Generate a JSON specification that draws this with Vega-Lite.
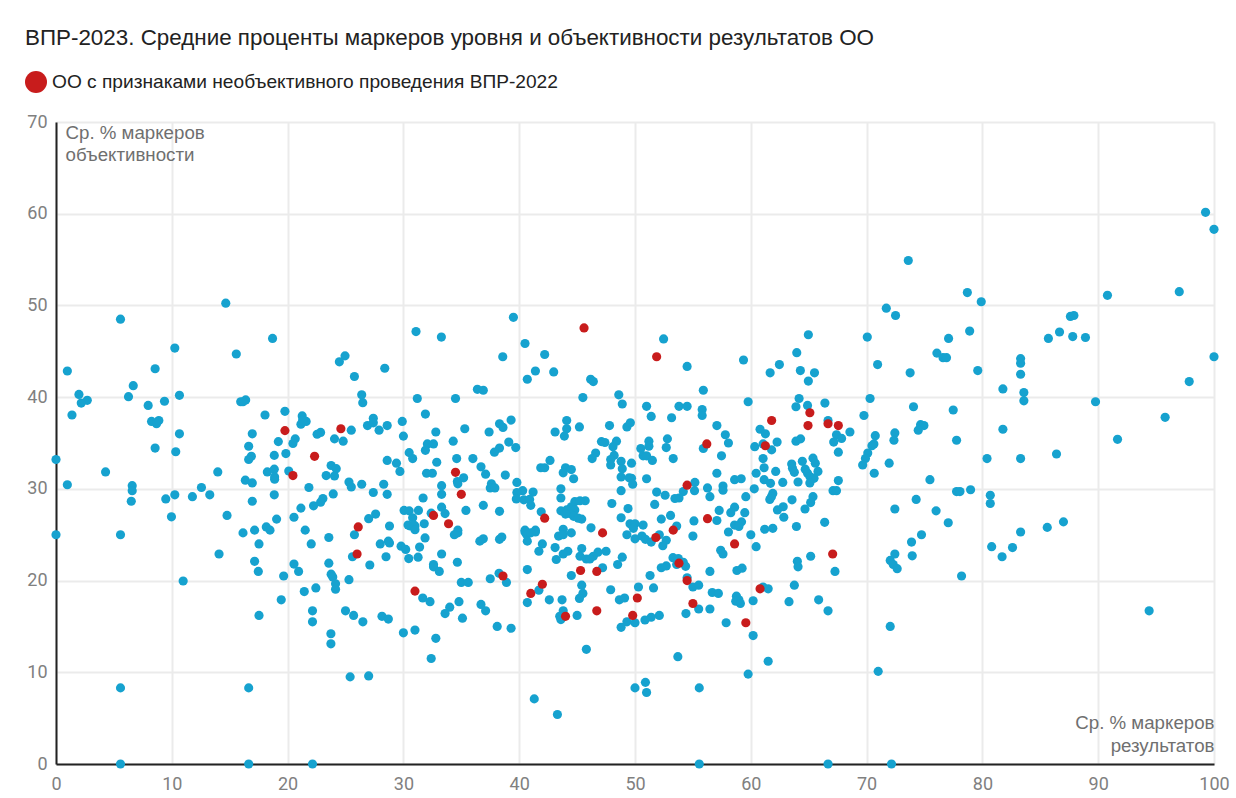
{"$schema":"https://vega.github.io/schema/vega-lite/v6.json","width":1158,"height":642,"autosize":"none","padding":{"left":56,"top":122,"right":22,"bottom":34},"background":"#ffffff",
"title":{"text":"ВПР-2023. Средние проценты маркеров уровня и объективности результатов ОО","anchor":"start","frame":"group","font":"Liberation Sans","fontSize":22.4,"fontWeight":"normal","color":"#222222","dx":-31,"dy":-22,"offset":0},
"config":{"view":{"stroke":null}},
"datasets":{"other":[
{"x":14.66,"y":50.25},{"x":5.57,"y":48.5},{"x":18.7,"y":46.4},{"x":10.26,"y":45.35},{"x":15.57,"y":44.7},{"x":8.56,"y":43.1},{"x":0.98,"y":42.85},{"x":6.67,"y":41.25},{"x":1.98,"y":40.3},{"x":6.26,"y":40.05},{"x":10.66,"y":40.2},{"x":2.7,"y":39.65},{"x":2.18,"y":39.35},{"x":9.37,"y":39.55},{"x":7.96,"y":39.1},{"x":15.95,"y":39.5},{"x":16.38,"y":39.7},{"x":16.15,"y":39.5},{"x":1.38,"y":38.05},{"x":18.05,"y":38.05},{"x":19.77,"y":38.45},{"x":21.26,"y":37.95},{"x":21.6,"y":37.35},{"x":21.15,"y":37.05},{"x":21.3,"y":37.5},{"x":8.25,"y":37.35},{"x":8.68,"y":37.1},{"x":8.88,"y":37.45},{"x":10.66,"y":36},{"x":16.95,"y":36},{"x":22.85,"y":36.15},{"x":22.55,"y":35.95},{"x":24.05,"y":35.45},{"x":20.66,"y":35.45},{"x":20.46,"y":34.95},{"x":19.2,"y":35.15},{"x":16.64,"y":34.65},{"x":8.56,"y":34.45},{"x":10.34,"y":34.05},{"x":18.85,"y":33.65},{"x":19.85,"y":33.85},{"x":16.87,"y":33.55},{"x":16.64,"y":33.2},{"x":0,"y":33.2},{"x":4.28,"y":31.85},{"x":13.97,"y":31.85},{"x":18.25,"y":31.85},{"x":18.85,"y":32.15},{"x":23.76,"y":32.55},{"x":24.2,"y":32.2},{"x":23.33,"y":31.45},{"x":24.05,"y":31.4},{"x":20.1,"y":31.95},{"x":18.88,"y":31.3},{"x":18.88,"y":31.05},{"x":16.35,"y":30.95},{"x":16.95,"y":30.65},{"x":0.98,"y":30.45},{"x":6.58,"y":30.35},{"x":6.58,"y":29.8},{"x":12.56,"y":30.15},{"x":21.84,"y":30.15},{"x":18.85,"y":29.35},{"x":10.26,"y":29.35},{"x":13.28,"y":29.35},{"x":11.78,"y":29.15},{"x":23.94,"y":29.45},{"x":9.48,"y":28.9},{"x":6.5,"y":28.65},{"x":16.95,"y":28.65},{"x":23.05,"y":28.95},{"x":22.85,"y":28.55},{"x":22.24,"y":28.15},{"x":21.15,"y":27.9},{"x":9.97,"y":26.95},{"x":14.77,"y":27.1},{"x":19.05,"y":26.7},{"x":20.55,"y":26.9},
{"x":0,"y":25},{"x":5.57,"y":25},{"x":16.15,"y":25.2},{"x":17.15,"y":25.5},{"x":18.16,"y":25.85},{"x":18.48,"y":25.5},{"x":21.52,"y":25.5},{"x":23.56,"y":24.7},{"x":17.53,"y":24},{"x":22.04,"y":24},{"x":14.08,"y":22.9},{"x":17.15,"y":22.1},{"x":17.47,"y":21},{"x":20.55,"y":21.8},{"x":20.95,"y":21},{"x":19.66,"y":20.5},{"x":23.56,"y":21.9},{"x":23.76,"y":20.7},{"x":23.9,"y":20.4},{"x":24.14,"y":19.65},{"x":24.14,"y":19.05},{"x":10.98,"y":19.95},{"x":21.44,"y":18.8},{"x":22.44,"y":19.2},{"x":19.45,"y":17.9},{"x":22.15,"y":16.7},{"x":22.15,"y":15.5},{"x":17.53,"y":16.2},{"x":23.74,"y":14.2},{"x":23.74,"y":13.1},{"x":5.57,"y":8.3},{"x":16.64,"y":8.3},{"x":5.57,"y":0},{"x":16.64,"y":0},{"x":22.15,"y":0},
{"x":31.09,"y":47.15},{"x":33.28,"y":46.55},{"x":39.5,"y":48.7},{"x":40.5,"y":45.85},{"x":42.2,"y":44.65},{"x":38.58,"y":44.4},{"x":24.96,"y":44.5},{"x":24.47,"y":43.85},{"x":28.39,"y":43.15},{"x":41.4,"y":42.85},{"x":42.98,"y":42.75},{"x":40.7,"y":41.95},{"x":25.77,"y":42.25},{"x":46.17,"y":41.95},{"x":46.4,"y":41.7},{"x":36.39,"y":40.85},{"x":36.9,"y":40.75},{"x":26.4,"y":40.25},{"x":26.49,"y":39.4},{"x":31.2,"y":39.85},{"x":34.5,"y":39.85},{"x":45.5,"y":39.95},{"x":48.6,"y":40.25},{"x":48.9,"y":39.25},{"x":31.9,"y":38.15},{"x":29.9,"y":37.35},{"x":27.4,"y":37.7},{"x":26.9,"y":36.9},{"x":27.4,"y":37.2},{"x":27.9,"y":36.4},{"x":28.6,"y":36.9},{"x":25.5,"y":36.4},{"x":39.3,"y":37.5},{"x":38.3,"y":37.1},{"x":38.6,"y":36.7},{"x":35.3,"y":36.55},{"x":37.4,"y":36.2},{"x":32.8,"y":36.2},{"x":30,"y":35.75},{"x":24.8,"y":35.2},{"x":34.3,"y":35.2},{"x":32.07,"y":34.9},{"x":32.6,"y":34.9},{"x":31.9,"y":34.2},{"x":44.1,"y":37.45},{"x":44.1,"y":36.55},{"x":43.9,"y":35.75},{"x":45.2,"y":36.75},{"x":43.1,"y":36.2},{"x":47.8,"y":36.9},{"x":49.3,"y":36.75},{"x":49.6,"y":37.2},{"x":39.1,"y":35.1},{"x":39.7,"y":34.5},{"x":38.3,"y":34.45},{"x":37.86,"y":34},{"x":30.5,"y":33.95},{"x":30.8,"y":33.3},{"x":34.6,"y":33.3},{"x":36,"y":33.3},{"x":28.6,"y":33.1},{"x":29.4,"y":32.8},{"x":32.88,"y":32.9},{"x":36.7,"y":32.4},{"x":37.1,"y":31.6},{"x":29.7,"y":31.9},{"x":32,"y":31.7},{"x":32.5,"y":31.7},{"x":38.8,"y":31.5},{"x":42.66,"y":33.1},{"x":41.86,"y":32.3},{"x":42.2,"y":32.3},{"x":44,"y":32.3},{"x":43.8,"y":31.75},{"x":44.5,"y":32.1},{"x":44.7,"y":31.1},{"x":46.6,"y":33.9},{"x":46.3,"y":33.3},{"x":47.1,"y":35.15},{"x":47.4,"y":35.05},{"x":48.4,"y":35.2},{"x":48.1,"y":34.6},{"x":48.2,"y":33.65},{"x":47.9,"y":33.2},{"x":47.9,"y":32.6},{"x":48.8,"y":33},{"x":48.9,"y":32.2},{"x":48.8,"y":31.3},{"x":49.5,"y":31.2},{"x":25.3,"y":30.75},{"x":25.5,"y":30.2},{"x":26.4,"y":30.5},{"x":28.3,"y":30.5},{"x":27.4,"y":29.6},{"x":28.6,"y":29.4},{"x":33.3,"y":30.35},{"x":33.3,"y":29.4},{"x":34.66,"y":30.8},{"x":35.2,"y":31.2},{"x":34.7,"y":30.55},{"x":37.6,"y":30.55},{"x":37.5,"y":30.1},{"x":37.9,"y":30.1},{"x":39.8,"y":30.7},{"x":40.3,"y":29.8},{"x":39.8,"y":29.6},{"x":41.2,"y":29.65},{"x":39.75,"y":28.9},{"x":40.4,"y":28.8},{"x":40.9,"y":28.85},{"x":41,"y":28.2},{"x":43.6,"y":30},{"x":43.6,"y":29},{"x":48.8,"y":29.8},{"x":31.7,"y":29},{"x":48,"y":28.4},{"x":48.8,"y":26.85},{"x":49.4,"y":27.85},{"x":30.06,"y":27.65},{"x":30.5,"y":27.6},{"x":31.3,"y":27.65},{"x":30.8,"y":26.85},{"x":33.3,"y":28},{"x":33.6,"y":27.3},{"x":32.4,"y":27.35},{"x":35.4,"y":27.65},{"x":36.9,"y":28.2},{"x":38.3,"y":27.55},{"x":41.9,"y":27.5},{"x":27.6,"y":27.25},{"x":27,"y":26.75},{"x":28.8,"y":25.95},{"x":31.8,"y":26.2},{"x":30.6,"y":25.95},{"x":31,"y":25.95},{"x":45.7,"y":28.7},{"x":44.8,"y":28.6},{"x":44.5,"y":28.05},{"x":44.1,"y":27.7},{"x":43.6,"y":27.6},{"x":44.8,"y":27.7},{"x":44.4,"y":27.3},{"x":44,"y":27.25},{"x":44.7,"y":27},{"x":45.4,"y":26.7},{"x":45.1,"y":26.8},{"x":45.25,"y":28.7},{"x":46.2,"y":25.75},{"x":43.8,"y":25.6},{"x":40.5,"y":25.5},{"x":41.4,"y":25.5},{"x":34.7,"y":25.5},
{"x":30.4,"y":26.05},{"x":30.9,"y":26.05},{"x":31,"y":25.55},{"x":25.77,"y":25},{"x":34.7,"y":25.2},{"x":34.4,"y":25},{"x":31.87,"y":24.65},{"x":28,"y":24},{"x":28.8,"y":24.1},{"x":28.7,"y":24.3},{"x":29.8,"y":23.75},{"x":30.2,"y":23.4},{"x":31.4,"y":23.65},{"x":36.9,"y":24.55},{"x":36.6,"y":24.3},{"x":38.5,"y":24.75},{"x":38.3,"y":24.5},{"x":40.5,"y":25.3},{"x":40.65,"y":25},{"x":41.4,"y":25.3},{"x":41,"y":25.2},{"x":40.7,"y":24.3},{"x":42,"y":24},{"x":41.7,"y":23.2},{"x":43.1,"y":23.6},{"x":43.4,"y":24.85},{"x":43.8,"y":25},{"x":44.5,"y":25.2},{"x":49.3,"y":25},{"x":45.4,"y":23.5},{"x":47.5,"y":23.2},{"x":46.8,"y":23.1},{"x":46.4,"y":22.65},{"x":45.8,"y":22.35},{"x":46.1,"y":22.35},{"x":45.25,"y":22.65},{"x":44.2,"y":23.2},{"x":43.8,"y":22.9},{"x":43.2,"y":22.3},{"x":48.9,"y":22.55},{"x":48.5,"y":21.75},{"x":33.3,"y":22.9},{"x":25.6,"y":22.6},{"x":28.5,"y":22.6},{"x":30.46,"y":22.4},{"x":31.27,"y":22.55},{"x":27.1,"y":21.7},{"x":34.66,"y":22},{"x":32.6,"y":21.75},{"x":32.6,"y":21.5},{"x":33.1,"y":21},{"x":25.3,"y":20.1},{"x":35,"y":19.8},{"x":35.6,"y":19.8},{"x":37.5,"y":20.2},{"x":38.26,"y":20.8},{"x":38.9,"y":19.8},{"x":40.7,"y":21.2},{"x":44.5,"y":20.55},{"x":47.2,"y":21.4},{"x":45.4,"y":19.5},{"x":41.7,"y":18.95},{"x":47.9,"y":19},{"x":45.5,"y":18.6},{"x":45.2,"y":18.05},{"x":42.6,"y":17.9},{"x":43.7,"y":17.9},{"x":40.7,"y":17.6},{"x":48.65,"y":17.9},{"x":49.1,"y":18.1},{"x":31.67,"y":18.1},{"x":32.3,"y":17.7},{"x":34.8,"y":17.7},{"x":34,"y":17.1},{"x":33.6,"y":16.4},{"x":36.7,"y":17.4},{"x":37.1,"y":16.7},{"x":43.8,"y":16.7},{"x":43.5,"y":16.1},{"x":43.6,"y":15.75},{"x":45,"y":16.2},{"x":25,"y":16.7},{"x":25.7,"y":16.2},{"x":26.5,"y":15.5},{"x":28.15,"y":16.1},{"x":28.7,"y":15.8},{"x":35.1,"y":15.9},{"x":38.1,"y":15},{"x":39.3,"y":14.8},{"x":30,"y":14.3},{"x":31,"y":14.6},{"x":32.8,"y":13.7},{"x":32.4,"y":11.5},{"x":45.8,"y":12.5},{"x":25.4,"y":9.5},{"x":27,"y":9.6},{"x":41.3,"y":7.1},{"x":43.3,"y":5.4},{"x":48.8,"y":14.9},{"x":49.3,"y":15.5},
{"x":52.47,"y":46.35},{"x":54.5,"y":43.35},{"x":59.37,"y":44.05},{"x":55.9,"y":40.75},{"x":64.97,"y":46.8},{"x":63.97,"y":44.85},{"x":62.47,"y":43.55},{"x":61.67,"y":42.65},{"x":64.28,"y":42.9},{"x":65.5,"y":42.65},{"x":64.97,"y":41.75},{"x":70.06,"y":46.55},{"x":70.95,"y":43.55},{"x":73.76,"y":42.65},{"x":59.77,"y":39.5},{"x":64.17,"y":39.85},{"x":63.9,"y":38.95},{"x":64.9,"y":39.1},{"x":66.4,"y":39.35},{"x":70.3,"y":39.85},{"x":74.05,"y":38.95},{"x":69.77,"y":38},{"x":51,"y":39},{"x":53.8,"y":39},{"x":54.5,"y":39},{"x":55.8,"y":38.65},{"x":55.8,"y":38},{"x":51.4,"y":37.9},{"x":53.16,"y":37.75},{"x":66.67,"y":37.45},{"x":57.07,"y":36.9},{"x":57.8,"y":35.9},{"x":58.07,"y":35},{"x":60.8,"y":36.5},{"x":61.26,"y":36},{"x":62.27,"y":35.1},{"x":60.34,"y":34.6},{"x":61.06,"y":34.9},{"x":61.8,"y":34.25},{"x":63.9,"y":35.2},{"x":64.3,"y":35.45},{"x":68.56,"y":36.2},{"x":67.4,"y":35.9},{"x":67.84,"y":35.5},{"x":67.16,"y":35.1},{"x":67.56,"y":34},{"x":70.75,"y":35.8},{"x":70.63,"y":34.9},{"x":70.46,"y":34.7},{"x":70.1,"y":33.9},{"x":69.9,"y":33.3},{"x":69.66,"y":32.6},{"x":72.44,"y":36.1},{"x":72.36,"y":35.3},{"x":71.95,"y":32.8},{"x":70.66,"y":31.7},{"x":51.2,"y":35.2},{"x":51.2,"y":34.65},{"x":50.5,"y":34.4},{"x":50.7,"y":33.6},{"x":51,"y":33.6},{"x":51.5,"y":33.1},{"x":52.8,"y":35.45},{"x":52.7,"y":34.5},{"x":53.3,"y":33.3},{"x":55.9,"y":34.4},{"x":57.47,"y":33.6},{"x":49.7,"y":32.8},{"x":49.7,"y":31.15},{"x":49.8,"y":30.5},{"x":51,"y":31.1},{"x":61.06,"y":33.3},{"x":61.15,"y":32.3},{"x":60.46,"y":31.7},{"x":62.15,"y":31.9},{"x":61.15,"y":31},{"x":61.7,"y":30.6},{"x":62.76,"y":30.7},{"x":64.08,"y":30.75},{"x":63.53,"y":32.7},{"x":63.6,"y":32.25},{"x":63.76,"y":31.8},{"x":64.45,"y":33},{"x":65.37,"y":33.35},{"x":65.57,"y":32.8},{"x":64.7,"y":32.15},{"x":64.9,"y":31.7},{"x":65.1,"y":31.35},{"x":65.8,"y":31.9},{"x":65.46,"y":31.15},{"x":65.1,"y":30.65},{"x":67.56,"y":30.9},{"x":67.1,"y":29.8},{"x":67.4,"y":29.8},{"x":57.07,"y":31.7},{"x":58.6,"y":31},{"x":59.17,"y":31.1},{"x":60.3,"y":30},{"x":56.26,"y":30.1},{"x":57.6,"y":30.3},{"x":57.6,"y":29.85},{"x":55.17,"y":30.7},{"x":55.14,"y":29.8},{"x":54.17,"y":29.7},{"x":53.8,"y":29},{"x":53.45,"y":28.95},{"x":51.87,"y":29.65},{"x":52.6,"y":29.3},{"x":51.7,"y":28.3},{"x":56.47,"y":29.15},{"x":59.57,"y":29.15},{"x":61.9,"y":29.5},{"x":61.78,"y":29.15},{"x":61.64,"y":28.85},{"x":63.56,"y":28.8},{"x":65.37,"y":29.15},{"x":65.17,"y":28.5},{"x":64.68,"y":27.8},{"x":62.8,"y":28.05},{"x":62.3,"y":27.7},{"x":62.85,"y":26.9},{"x":72.44,"y":27.8},{"x":74.28,"y":28.85},{"x":66.38,"y":26.35},{"x":63.94,"y":25.9},{"x":57.27,"y":27.65},{"x":58.6,"y":28},{"x":58.27,"y":27.4},{"x":59.48,"y":27.4},{"x":57.07,"y":26.55},{"x":59.2,"y":26.4},{"x":55.09,"y":26.5},{"x":53.07,"y":27.1},{"x":52.27,"y":26.7},{"x":53.6,"y":25.95},{"x":49.57,"y":26.2},{"x":50,"y":26.2},{"x":50.7,"y":26.05},{"x":49.86,"y":25.7},{"x":58.6,"y":26.05},{"x":58.97,"y":25.9},{"x":61.2,"y":25.6},{"x":61.9,"y":25.7},
{"x":50,"y":24.55},{"x":50.6,"y":24.85},{"x":50.9,"y":24.5},{"x":51.4,"y":24.2},{"x":52.1,"y":25},{"x":52.7,"y":24.4},{"x":52.4,"y":23.8},{"x":55,"y":24.85},{"x":58.07,"y":25.3},{"x":60,"y":25},{"x":60.46,"y":23.7},{"x":57.4,"y":23.3},{"x":57.6,"y":22.9},{"x":65.17,"y":22.65},{"x":64.02,"y":22.1},{"x":64.08,"y":21.5},{"x":67.27,"y":21},{"x":53.28,"y":22.5},{"x":53.74,"y":22.4},{"x":54.17,"y":22},{"x":54.37,"y":21.55},{"x":53.6,"y":21.75},{"x":52.27,"y":21.4},{"x":52.7,"y":21.6},{"x":51.3,"y":20.55},{"x":56.47,"y":21},{"x":58.8,"y":21.1},{"x":59.25,"y":21.35},{"x":54.5,"y":20.3},{"x":55,"y":19.3},{"x":55.5,"y":19.5},{"x":63.76,"y":19.5},{"x":50.3,"y":19.3},{"x":51.6,"y":19.2},{"x":56.67,"y":18.7},{"x":57.2,"y":18.6},{"x":61.06,"y":19.3},{"x":61.5,"y":19.1},{"x":58.76,"y":18.3},{"x":58.97,"y":17.9},{"x":58.7,"y":17.75},{"x":59.1,"y":17.5},{"x":60.2,"y":17.8},{"x":63.3,"y":17.7},{"x":65.86,"y":17.9},{"x":54.4,"y":16.4},{"x":55.5,"y":16.9},{"x":56.47,"y":16.9},{"x":66.67,"y":16.7},{"x":52.1,"y":16.2},{"x":51.4,"y":16},{"x":50.86,"y":15.7},{"x":50,"y":15.4},{"x":57.87,"y":15.4},{"x":60.2,"y":14},{"x":72.04,"y":15},{"x":53.7,"y":11.7},{"x":61.5,"y":11.2},{"x":59.77,"y":9.8},{"x":71,"y":10.1},{"x":50,"y":8.3},{"x":50.9,"y":8.9},{"x":51,"y":7.8},{"x":55.55,"y":8.3},{"x":55.55,"y":0},{"x":66.67,"y":0},{"x":72.15,"y":0},{"x":72.04,"y":22.2},{"x":72.44,"y":22.9},{"x":72.3,"y":21.75},{"x":72.64,"y":21.3},{"x":73.88,"y":24.2},{"x":73.94,"y":22.7},
{"x":99.27,"y":60.15},{"x":100,"y":58.3},{"x":73.6,"y":54.9},{"x":78.7,"y":51.4},{"x":79.9,"y":50.4},{"x":90.8,"y":51.1},{"x":97,"y":51.5},{"x":71.7,"y":49.7},{"x":72.5,"y":48.9},{"x":87.6,"y":48.8},{"x":87.9,"y":48.9},{"x":77.08,"y":46.4},{"x":78.9,"y":47.2},{"x":85.7,"y":46.4},{"x":86.66,"y":47.1},{"x":87.8,"y":46.6},{"x":88.9,"y":46.5},{"x":76.07,"y":44.8},{"x":76.6,"y":44.3},{"x":76.9,"y":44.3},{"x":100,"y":44.4},{"x":83.3,"y":44.2},{"x":83.3,"y":43.7},{"x":83.3,"y":42.5},{"x":79.6,"y":42.9},{"x":81.77,"y":40.9},{"x":83.58,"y":40.5},{"x":83.58,"y":39.6},{"x":97.86,"y":41.7},{"x":89.77,"y":39.5},{"x":77.48,"y":38.6},{"x":95.78,"y":37.8},{"x":74.66,"y":37},{"x":74.95,"y":36.9},{"x":74.46,"y":36.4},{"x":81.77,"y":36.5},{"x":91.67,"y":35.4},{"x":77.77,"y":35.3},{"x":80.4,"y":33.3},{"x":83.3,"y":33.3},{"x":86.4,"y":33.8},{"x":75.47,"y":31},{"x":78.98,"y":29.9},{"x":77.77,"y":29.7},{"x":78.06,"y":29.7},{"x":80.68,"y":29.3},{"x":80.68,"y":28.4},{"x":76,"y":27.6},{"x":77.05,"y":26.3},{"x":74.74,"y":25},{"x":78.2,"y":20.5},{"x":80.8,"y":23.7},{"x":81.7,"y":22.6},{"x":82.6,"y":23.6},{"x":83.3,"y":25.3},{"x":85.6,"y":25.8},{"x":87,"y":26.4},{"x":94.4,"y":16.7}
],"flagged":[
{"x":19.77,"y":36.35,"g":"ОО с признаками необъективного проведения ВПР-2022"},{"x":24.6,"y":36.55,"g":"ОО с признаками необъективного проведения ВПР-2022"},{"x":22.33,"y":33.55,"g":"ОО с признаками необъективного проведения ВПР-2022"},{"x":20.46,"y":31.45,"g":"ОО с признаками необъективного проведения ВПР-2022"},{"x":34.5,"y":31.8,"g":"ОО с признаками необъективного проведения ВПР-2022"},{"x":35,"y":29.4,"g":"ОО с признаками необъективного проведения ВПР-2022"},{"x":32.6,"y":27.1,"g":"ОО с признаками необъективного проведения ВПР-2022"},{"x":42.2,"y":26.8,"g":"ОО с признаками необъективного проведения ВПР-2022"},{"x":26.1,"y":25.85,"g":"ОО с признаками необъективного проведения ВПР-2022"},{"x":33.9,"y":26.2,"g":"ОО с признаками необъективного проведения ВПР-2022"},{"x":26,"y":22.9,"g":"ОО с признаками необъективного проведения ВПР-2022"},{"x":45.6,"y":47.55,"g":"ОО с признаками необъективного проведения ВПР-2022"},{"x":38.6,"y":20.5,"g":"ОО с признаками необъективного проведения ВПР-2022"},{"x":31,"y":18.85,"g":"ОО с признаками необъективного проведения ВПР-2022"},{"x":42,"y":19.6,"g":"ОО с признаками необъективного проведения ВПР-2022"},{"x":41,"y":18.6,"g":"ОО с признаками необъективного проведения ВПР-2022"},{"x":45.3,"y":21.1,"g":"ОО с признаками необъективного проведения ВПР-2022"},{"x":46.7,"y":21,"g":"ОО с признаками необъективного проведения ВПР-2022"},{"x":47.2,"y":25.2,"g":"ОО с признаками необъективного проведения ВПР-2022"},{"x":46.7,"y":16.7,"g":"ОО с признаками необъективного проведения ВПР-2022"},{"x":44,"y":16.1,"g":"ОО с признаками необъективного проведения ВПР-2022"},{"x":49.8,"y":16.2,"g":"ОО с признаками необъективного проведения ВПР-2022"},{"x":50.2,"y":18.1,"g":"ОО с признаками необъективного проведения ВПР-2022"},{"x":51.87,"y":44.4,"g":"ОО с признаками необъективного проведения ВПР-2022"},{"x":65.1,"y":38.3,"g":"ОО с признаками необъективного проведения ВПР-2022"},{"x":61.8,"y":37.45,"g":"ОО с признаками необъективного проведения ВПР-2022"},{"x":64.94,"y":36.9,"g":"ОО с признаками необъективного проведения ВПР-2022"},{"x":66.67,"y":37.1,"g":"ОО с признаками необъективного проведения ВПР-2022"},{"x":67.56,"y":36.9,"g":"ОО с признаками необъективного проведения ВПР-2022"},{"x":61.26,"y":34.7,"g":"ОО с признаками необъективного проведения ВПР-2022"},{"x":56.2,"y":34.9,"g":"ОО с признаками необъективного проведения ВПР-2022"},{"x":54.5,"y":30.4,"g":"ОО с признаками необъективного проведения ВПР-2022"},{"x":56.26,"y":26.75,"g":"ОО с признаками необъективного проведения ВПР-2022"},{"x":53.3,"y":25.5,"g":"ОО с признаками необъективного проведения ВПР-2022"},{"x":51.8,"y":24.7,"g":"ОО с признаками необъективного проведения ВПР-2022"},{"x":53.8,"y":21.9,"g":"ОО с признаками необъективного проведения ВПР-2022"},{"x":54.5,"y":20,"g":"ОО с признаками необъективного проведения ВПР-2022"},{"x":55,"y":17.5,"g":"ОО с признаками необъективного проведения ВПР-2022"},{"x":58.6,"y":24,"g":"ОО с признаками необъективного проведения ВПР-2022"},{"x":60.8,"y":19.1,"g":"ОО с признаками необъективного проведения ВПР-2022"},{"x":59.57,"y":15.4,"g":"ОО с признаками необъективного проведения ВПР-2022"},{"x":67.07,"y":22.9,"g":"ОО с признаками необъективного проведения ВПР-2022"}
]},
"encoding":{
"x":{"field":"x","type":"quantitative","scale":{"domain":[0,100],"nice":false},
"axis":{"values":[0,10,20,30,40,50,60,70,80,90,100],"grid":true,"gridColor":"#ebebeb","gridWidth":2,"ticks":false,"domain":true,"domainColor":"#222222","domainWidth":2,"labelFont":"Roboto","labelFontSize":18,"labelColor":"#808080","labelPadding":11,"labelFlush":false,"labelOverlap":false,
"title":["Ср. % маркеров","результатов"],"titleFont":"Liberation Sans","titleFontSize":18.7,"titleFontWeight":"normal","titleColor":"#6f6f6f","titleAlign":"right","titleAnchor":"end","titleX":1158,"titleY":-36,"titleBaseline":"alphabetic","titleLineHeight":23}},
"y":{"field":"y","type":"quantitative","scale":{"domain":[0,70],"nice":false},
"axis":{"values":[0,10,20,30,40,50,60,70],"grid":true,"gridColor":"#ebebeb","gridWidth":2,"ticks":false,"domain":true,"domainColor":"#222222","domainWidth":2,"labelFont":"Roboto","labelFontSize":18,"labelColor":"#808080","labelPadding":9,"labelOverlap":false,
"title":["Ср. % маркеров","объективности"],"titleFont":"Liberation Sans","titleFontSize":18.7,"titleFontWeight":"normal","titleColor":"#6f6f6f","titleAngle":0,"titleAlign":"left","titleAnchor":"start","titleX":9,"titleY":16,"titleBaseline":"alphabetic","titleLineHeight":22}}
},
"layer":[
{"data":{"name":"other"},"mark":{"type":"point","filled":true,"opacity":1,"size":84,"clip":false,"color":"#16a2cf"}},
{"data":{"name":"flagged"},"mark":{"type":"point","filled":true,"opacity":1,"size":84,"clip":false},
"encoding":{"color":{"field":"g","type":"nominal","scale":{"range":["#c81c1c"]},
"legend":{"title":null,"orient":"none","legendX":-31,"legendY":-51,"symbolType":"circle","symbolSize":484,"symbolOpacity":1,"symbolStrokeWidth":0,"labelFont":"Liberation Sans","labelFontSize":19.15,"labelColor":"#222222","labelLimit":700,"labelOffset":5}}}}
]}
